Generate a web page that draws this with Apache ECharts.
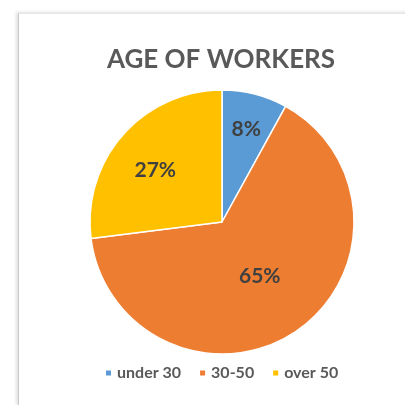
<!DOCTYPE html>
<html>
<head>
<meta charset="utf-8">
<script src="https://cdn.jsdelivr.net/npm/echarts@6/dist/echarts.min.js"></script>
<style>
html,body{margin:0;padding:0;background:#fff;width:405px;height:405px;overflow:hidden;}
#frame{position:absolute;left:18px;top:13px;width:400px;height:392px;border-left:1px solid #c8c8c8;border-top:1px solid #e6e6e6;box-shadow:-2px -1px 3px rgba(0,0,0,0.12);background:#fff;}
#chart{position:absolute;left:0;top:0;width:405px;height:405px;}
</style>
</head>
<body>
<div id="frame"></div>
<div id="chart"></div>
<script>
const title = 'AGE OF WORKERS';
const categories = ['under 30', '30-50', 'over 50'];
const values = [8, 65, 27];
const colors = ['#5b9bd5', '#ed7d31', '#ffc000'];
const labelOffsets = [[7, -26], [-1, -3], [-15, -6]];

const chart = echarts.init(document.getElementById('chart'), null, {renderer: 'canvas'});
chart.setOption({
  backgroundColor: 'transparent',
  animation: false,
  title: {
    text: title,
    left: 216,
    textAlign: 'center',
    top: 42,
    textStyle: {fontFamily: 'Lato', fontWeight: 'bold', fontSize: 26, color: '#595959'}
  },
  legend: {
    data: categories,
    bottom: 19,
    left: 99,
    itemWidth: 7,
    itemHeight: 7,
    itemGap: 17,
    icon: 'rect',
    textStyle: {fontFamily: 'Lato', fontSize: 16, fontWeight: 'bold', color: '#595959', padding: [0, 0, 0, 0]}
  },
  series: [{
    type: 'pie',
    center: [222, 222],
    radius: [0, 132],
    startAngle: 90,
    clockwise: true,
    label: {
      show: true,
      position: 'inside',
      formatter: '{d}%',
      fontFamily: 'Lato',
      fontWeight: 'bold',
      fontSize: 21,
      color: '#404040'
    },
    labelLine: {show: false},
    itemStyle: {borderColor: '#ffffff', borderWidth: 1.5},
    emphasis: {disabled: true},
    data: categories.map((n, i) => ({
      name: n,
      value: values[i],
      itemStyle: {color: colors[i]},
      label: {offset: labelOffsets[i]}
    }))
  }]
});
</script>
</body>
</html>
